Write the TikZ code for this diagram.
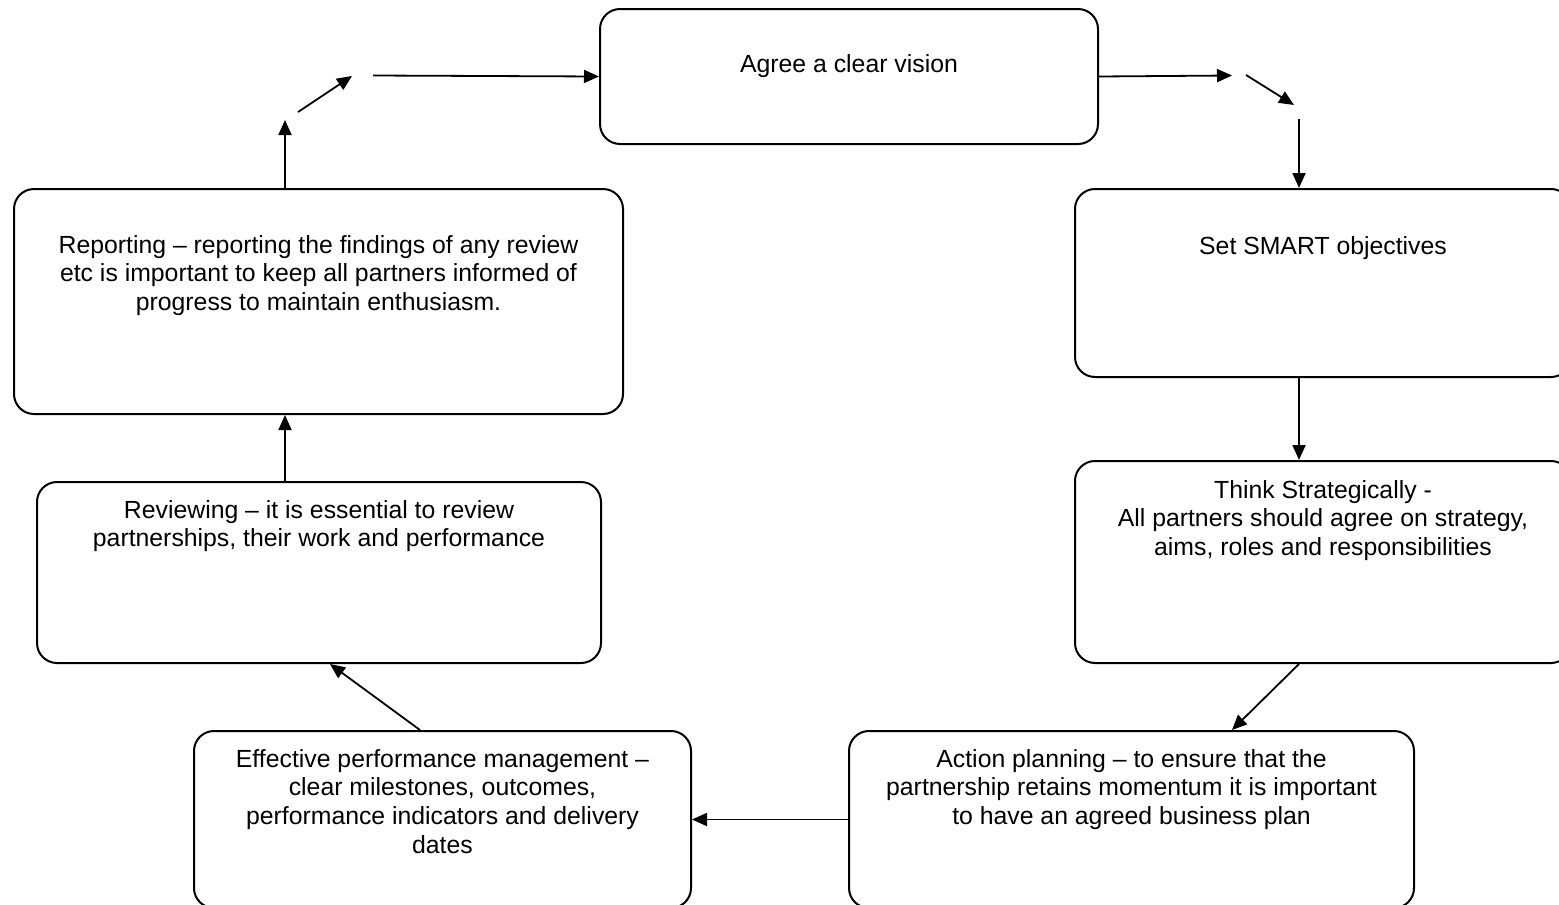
\documentclass[tikz,border=0pt]{standalone}
\usepackage{fontspec}
\setmainfont{Liberation Sans}
\usetikzlibrary{arrows.meta}

\newcommand{\stagefont}{\fontsize{12.4}{14.3}\selectfont}

\begin{document}
\begin{tikzpicture}[x=0.5pt, y=-0.5pt,
  stage/.style={draw, line width=1pt, rounded corners=10pt, anchor=north west, inner sep=0pt},
  stagetext/.style={anchor=north, align=center, inner sep=0pt, font=\stagefont},
  flow/.style={-{Triangle[length=7.5pt,width=6.5pt]}, line width=0.9pt}]
  \clip (0,0) rectangle (1559,905);
  \fill[white] (0,0) rectangle (1559,905);

  % boxes of the cycle
  \node[stage, minimum width=249pt, minimum height=67.5pt] (vision) at (599,8) {};
  \node[stage, minimum width=248pt, minimum height=94pt] (smart) at (1074,188) {};
  \node[stage, minimum width=248pt, minimum height=101pt] (strategic) at (1074,460) {};
  \node[stage, minimum width=282.5pt, minimum height=88.5pt] (action) at (848,730) {};
  \node[stage, minimum width=248.5pt, minimum height=88.5pt] (effective) at (193,730) {};
  \node[stage, minimum width=282pt, minimum height=90.5pt] (reviewing) at (36,481) {};
  \node[stage, minimum width=304.5pt, minimum height=112.5pt] (reporting) at (13,188) {};

  % texts
  \node[stagetext] (visiontext) at ([yshift=-23pt]vision.north) {Agree a clear vision};
  \node[stagetext] (smarttext) at ([yshift=-24pt]smart.north) {Set SMART objectives};
  \node[stagetext] (strategictext) at ([yshift=-10pt]strategic.north)
    {Think Strategically -\\All partners should agree on strategy,\\aims, roles and responsibilities};
  \node[stagetext] (actiontext) at ([yshift=-9.5pt]action.north)
    {Action planning -- to ensure that the\\partnership retains momentum it is important\\to have an agreed business plan};
  \node[stagetext] (effectivetext) at ([yshift=-9.5pt]effective.north)
    {Effective performance management --\\clear milestones, outcomes,\\performance indicators and delivery\\dates};
  \node[stagetext] (reviewingtext) at ([yshift=-9.5pt]reviewing.north)
    {Reviewing -- it is essential to review\\partnerships, their work and performance};
  \node[stagetext] (reportingtext) at ([yshift=-23.5pt]reporting.north)
    {Reporting -- reporting the findings of any review\\etc is important to keep all partners informed of\\progress to maintain enthusiasm.};

  % free ends of the split arrows
  \coordinate (r1) at (1232,75.5);
  \coordinate (r2) at (1246,75);
  \coordinate (r3) at (1294,105);
  \coordinate (r4) at (1299,119);
  \coordinate (b1) at (1232,730);
  \coordinate (l1) at (420,730);
  \coordinate (l2) at (330,662);
  \coordinate (l3) at (285,120);
  \coordinate (t2) at (298,112);
  \coordinate (t3) at (352,76);
  \coordinate (t4) at (373,75.5);

  % connectors
  \draw[flow] (vision.east) -- (r1); % vision -> corner
  \draw[flow] (r2) -- (r3);
  \draw[flow] (r4) -- (r4 |- smart.north); % corner -> smart
  \draw[flow] (r4 |- smart.south) -- (r4 |- strategic.north); % smart -> strategic
  \draw[flow] (r4 |- strategic.south) -- (b1 |- action.north); % strategic -> action
  \draw[flow] (action.west) -- (effective.east); % action -> effective
  \draw[flow] (l1 |- effective.north) -- (l2 |- reviewing.south); % effective -> reviewing
  \draw[flow] (l3 |- reviewing.north) -- (l3 |- reporting.south); % reviewing -> reporting
  \draw[flow] (l3 |- reporting.north) -- (l3); % reporting -> corner
  \draw[flow] (t2) -- (t3);
  \draw[flow] (t4) -- (vision.west); % corner -> vision
\end{tikzpicture}
\end{document}
